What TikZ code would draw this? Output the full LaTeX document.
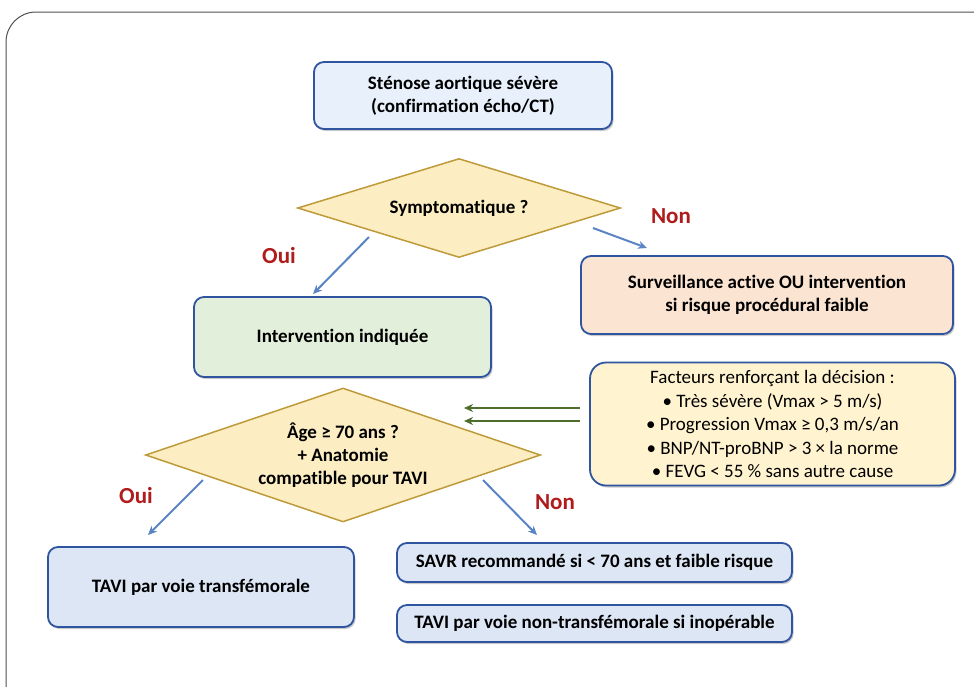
\documentclass[tikz,border=0pt]{standalone}
\usepackage{fontspec}
\setmainfont{Carlito}[Ligatures={NoCommon}]
\usetikzlibrary{shapes.geometric,shadows,arrows.meta}
\definecolor{boxborder}{HTML}{2F55A0}
\definecolor{topfill}{HTML}{E7F0FB}
\definecolor{bluefill}{HTML}{DCE6F4}
\definecolor{greenfill}{HTML}{E2EFDA}
\definecolor{peachfill}{HTML}{FBE4D2}
\definecolor{yellowfill}{HTML}{FFF3D0}
\definecolor{diafill}{HTML}{FCEEC2}
\definecolor{diaborder}{HTML}{BF9A3A}
\definecolor{arrowblue}{HTML}{5A84C4}
\definecolor{arrowgreen}{HTML}{4F6E2E}
\definecolor{labelred}{HTML}{B01C1C}
\definecolor{framegray}{HTML}{505050}
\tikzset{
  bodyfont/.style={font=\bfseries\fontsize{19}{23}\selectfont},
  flowbox/.style={draw=boxborder, line width=1.8pt, rounded corners=10pt, align=center,
    inner sep=0pt, bodyfont, text=black,
    drop shadow={opacity=0.35, shadow xshift=1.5pt, shadow yshift=-2pt, fill=black!60}},
  decision/.style={draw=diaborder, line width=1.5pt, fill=diafill, shape=diamond,
    inner sep=0pt, align=center, bodyfont, text=black},
  flowarrow/.style={draw=arrowblue, line width=2pt, -{Stealth[length=9pt,width=8pt]}},
  factarrow/.style={draw=arrowgreen, line width=2pt, -{Stealth[length=9pt,width=8pt]}},
  answer/.style={font=\bfseries\fontsize{23}{27}\selectfont, text=labelred, inner sep=0pt},
}
\begin{document}
\begin{tikzpicture}[x=1pt,y=-1pt]
\useasboundingbox (0,0) rectangle (974,686);
\begin{scope}
\clip (0,0) rectangle (974,686);
\draw[framegray, line width=1pt, rounded corners=30pt] (6,12) rectangle (1010,720);
\end{scope}

% boxes
\node[flowbox, fill=topfill, minimum width=298pt, minimum height=67pt] (start) at (463,95.5)
  {Sténose aortique sévère\\(confirmation écho/CT)};
\node[decision, minimum width=323pt, minimum height=99pt, aspect=3.26] (symp) at (459,208)
  {Symptomatique ?};
\node[flowbox, fill=greenfill, minimum width=297pt, minimum height=80pt] (interv) at (342.5,337)
  {Intervention indiquée};
\node[flowbox, fill=peachfill, minimum width=372pt, minimum height=78pt] (surv) at (767,295)
  {Surveillance active OU intervention\\si risque procédural faible};
\node[flowbox, fill=yellowfill, minimum width=365pt, minimum height=123pt, rounded corners=16pt,
  font=\fontsize{19}{23.5}\selectfont] (fact) at (772.5,424)
  {Facteurs renforçant la décision :\\
   • Très sévère (Vmax > 5 m/s)\\
   • Progression Vmax ≥ 0,3 m/s/an\\
   • BNP/NT-proBNP > 3 × la norme\\
   • FEVG < 55 \% sans autre cause};
\node[decision, minimum width=395pt, minimum height=134pt, aspect=2.95] (age) at (343,455)
  {Âge ≥ 70 ans ?\\+ Anatomie\\compatible pour TAVI};
\node[flowbox, fill=bluefill, minimum width=306pt, minimum height=80pt] (tavi) at (201,587)
  {TAVI par voie transfémorale};
\node[flowbox, fill=bluefill, minimum width=395pt, minimum height=39pt] (savr) at (594.5,562.5)
  {SAVR recommandé si < 70 ans et faible risque};
\node[flowbox, fill=bluefill, minimum width=395pt, minimum height=37pt] (tavinon) at (594.5,623.5)
  {TAVI par voie non-transfémorale si inopérable};

% labels
\node[answer] (oui1) at (279,256) {Oui};
\node[answer] (non1) at (671,216) {Non};
\node[answer] (oui2) at (136,496) {Oui};
\node[answer] (non2) at (555,502) {Non};

% arrow end points
\coordinate (a1s) at (369,237);
\coordinate (a1e) at (313,294);
\coordinate (a2s) at (593,228);
\coordinate (a2e) at (647,248);
\coordinate (a3s) at (203,480);
\coordinate (a3e) at (148,535);
\coordinate (a4s) at (483,480);
\coordinate (a4e) at (537,535);
\coordinate (g1s) at (580,408);
\coordinate (g1e) at (464,408);
\coordinate (g2s) at (580,421);
\coordinate (g2e) at (464,421);

\draw[flowarrow] (a1s) -- (a1e);
\draw[flowarrow] (a2s) -- (a2e);
\draw[flowarrow] (a3s) -- (a3e);
\draw[flowarrow] (a4s) -- (a4e);
\draw[factarrow] (g1s) -- (g1e);
\draw[factarrow] (g2s) -- (g2e);
\end{tikzpicture}
\end{document}
